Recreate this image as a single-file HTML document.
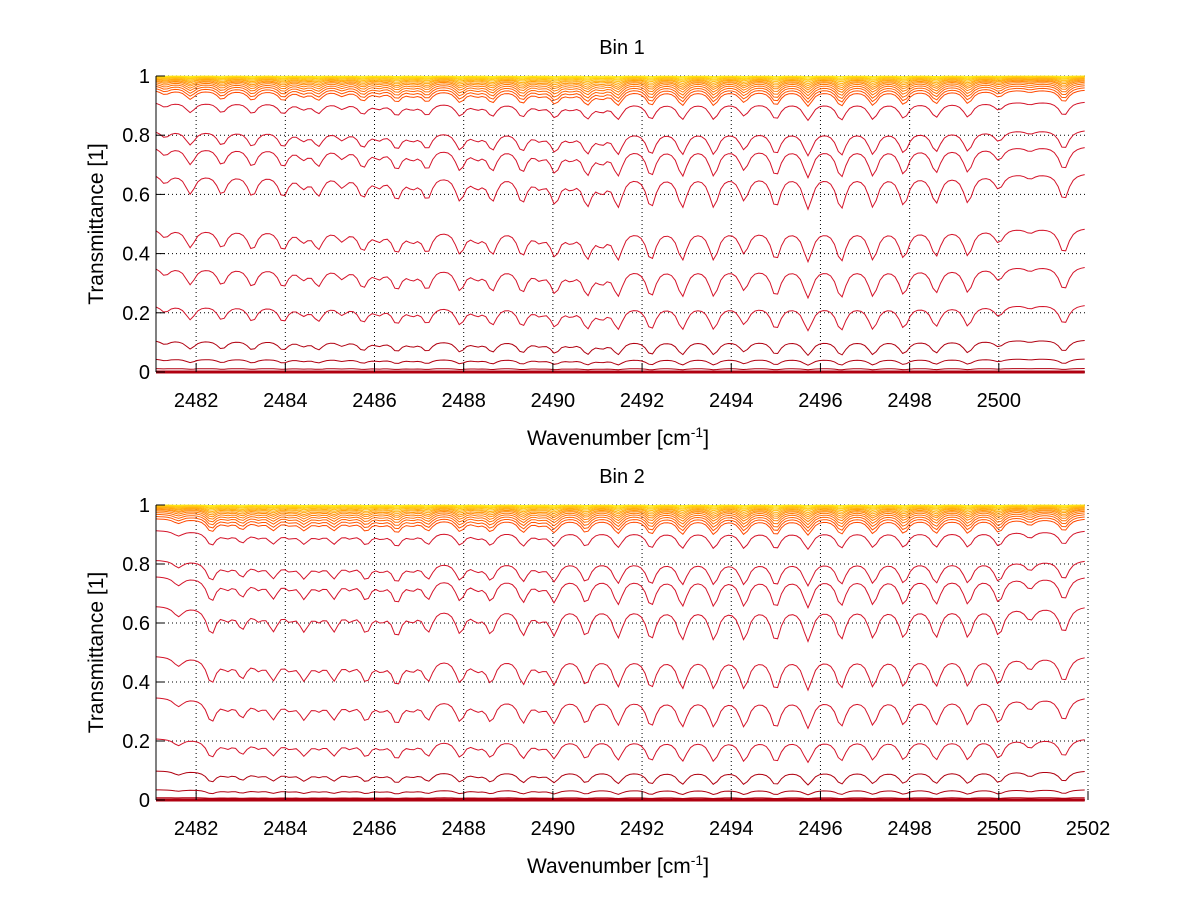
<!DOCTYPE html>
<html><head><meta charset="utf-8">
<style>
body{margin:0;background:#fff;}
svg{display:block;font-family:"Liberation Sans",sans-serif;}
</style></head>
<body>
<svg id="fig" width="1200" height="901" viewBox="0 0 1200 901" xmlns="http://www.w3.org/2000/svg">
<rect width="1200" height="901" fill="#fff"/>
</svg>
<script>
// ---- data ----
const xTicks = [2482,2484,2486,2488,2490,2492,2494,2496,2498,2500];
const xTicks2 = [2482,2484,2486,2488,2490,2492,2494,2496,2498,2500,2502];
const yTicks = [0,0.2,0.4,0.6,0.8,1];
const yTickLabels = ["0","0.2","0.4","0.6","0.8","1"];
const bin1LinePos = [2481.3,2481.87,2482.58,2483.26,2483.95,2484.4,2484.74,2485.27,2485.74,2486.1,2486.5,2486.85,2487.18,2487.92,2488.3,2488.64,2489.31,2489.7,2490.05,2490.4,2490.77,2491.1,2491.46,2492.2,2492.9,2493.61,2494.29,2495.0,2495.72,2496.46,2497.18,2497.87,2498.59,2499.31,2500.0,2500.7,2501.46];
const bin1LineStr = [0.3,0.6,0.6,0.65,0.65,0.35,0.6,0.35,0.65,0.3,0.7,0.3,0.7,0.75,0.3,0.75,0.8,0.3,0.8,0.3,0.85,0.4,0.9,0.95,0.95,0.95,0.75,0.95,1.0,1.0,0.95,0.9,0.85,0.85,0.45,0.15,0.8];
const bin2LinePos = [2481.6,2482.34,2482.7,2483.03,2483.4,2483.73,2484.1,2484.42,2484.75,2485.09,2485.45,2485.81,2486.15,2486.5,2486.85,2487.2,2487.92,2488.3,2488.61,2489.33,2489.7,2490.03,2490.74,2491.46,2492.2,2492.9,2493.61,2494.29,2495.0,2495.72,2496.46,2497.18,2497.87,2498.59,2499.31,2500.0,2500.7,2501.46];
const bin2LineStr = [0.3,0.8,0.3,0.6,0.3,0.65,0.3,0.65,0.3,0.65,0.3,0.7,0.3,0.8,0.3,0.7,0.75,0.3,0.75,0.8,0.3,0.8,0.85,0.9,0.95,0.95,0.95,0.95,1.0,1.0,0.95,0.9,0.9,0.9,0.9,0.85,0.4,0.8];
const bin1Levels = [0.0,0.012,0.045,0.11,0.23,0.36,0.49,0.675,0.765,0.82,0.915,0.955,0.963,0.97,0.976,0.981,0.985,0.988,0.991,0.993,0.995,0.997,0.998,0.999,1.0];
const bin1Depths = [0.0,0.35,0.45,0.45,0.36,0.28,0.22,0.17,0.13,0.1,0.065,0.055,0.05,0.045,0.04,0.035,0.03,0.026,0.022,0.018,0.014,0.011,0.008,0.005,0.002];
const bin2Levels = [0.0,0.008,0.035,0.1,0.21,0.35,0.49,0.66,0.76,0.815,0.915,0.955,0.963,0.97,0.976,0.981,0.985,0.988,0.991,0.993,0.995,0.997,0.998,0.999,1.0];
const bin2Depths = [0.0,0.35,0.45,0.45,0.36,0.28,0.22,0.17,0.13,0.1,0.065,0.055,0.05,0.045,0.04,0.035,0.03,0.026,0.022,0.018,0.014,0.011,0.008,0.005,0.002];

const NS="http://www.w3.org/2000/svg";
const svg=document.getElementById('fig');
const XMIN=2481.1, XMAX=2502;
const L=156,R=1088;
function el(tag,attrs,parent){const e=document.createElementNS(NS,tag);for(const k in attrs)e.setAttribute(k,attrs[k]);(parent||svg).appendChild(e);return e;}
function color(i,n){
  if(i<=3) return '#b00010';
  if(i<=10) return '#d4142a';
  const t=(i-10)/(n-11);
  const g=Math.round(60+t*180), b=Math.round(t*20);
  return 'rgb(255,'+g+','+b+')';
}
function panel(name,top,bottom,ticks,linePos,lineStr,levels,depths,title){
  const g=el('g',{});
  
  
  const sx=v=>L+(v-XMIN)/(XMAX-XMIN)*(R-L);
  const sy=v=>bottom-v*(bottom-top);
  ticks.forEach(t=>{const x=sx(t); if(x>R+1)return;
    const gl=el('line',{x1:x,x2:x,y1:top,y2:bottom,stroke:'#000','stroke-width':1,'stroke-dasharray':'1,3'},g);
    });
  yTicks.forEach(t=>{const y=sy(t);
    const gl=el('line',{x1:L,x2:R,y1:y,y2:y,stroke:'#000','stroke-width':1,'stroke-dasharray':'1,3'},g);
    });
  const A=v=>{let s=0;for(let j=0;j<linePos.length;j++){const d=(v-linePos[j])/0.13;s+=lineStr[j]/(1+d*d);}return Math.min(s,1.3);};
  const n=levels.length;
  for(let i=n-1;i>=0;i--){
    let d='';
    for(let v=XMIN;v<=XMAX+0.001;v+=0.085){
      const T=levels[i]*(1-depths[i]*A(v));
      d+=(d?'L':'M')+sx(v).toFixed(1)+','+sy(T).toFixed(1);
    }
    const p=el('path',{d:d,fill:'none',stroke:color(i,n),'stroke-width':i===0?3:1},g);
    
    
  }
  const ax=el('line',{x1:L,x2:L,y1:top,y2:bottom,stroke:'#000'},g);
  
  ticks.forEach(t=>{const x=sx(t); if(x>R+1)return;
    el('line',{x1:x,x2:x,y1:bottom,y2:bottom-9,stroke:'#000'},g);
    const tx=el('text',{x:x,y:bottom+35,'font-size':20,'text-anchor':'middle'},g);
    tx.textContent=t;});
  yTicks.forEach((t,k)=>{const y=sy(t);
    el('line',{x1:L,x2:L+9,y1:y,y2:y,stroke:'#000'},g);
    const tx=el('text',{x:L-6,y:y+7,'font-size':20,'text-anchor':'end'},g);
    tx.textContent=yTickLabels[k];});
  const tt=el('text',{x:(L+R)/2,y:top-22,'font-size':20,'text-anchor':'middle'},g);
  tt.textContent=title;
  const xl=el('text',{x:(L+R)/2-4,y:bottom+73,'font-size':21,'text-anchor':'middle'},g);
  xl.innerHTML='Wavenumber [cm<tspan dy="-8" font-size="14">-1</tspan><tspan dy="8">]</tspan>';
  
  const cy=(top+bottom)/2;
  const yl=el('text',{x:103,y:cy,'font-size':21,'text-anchor':'middle',transform:'rotate(-90 103 '+cy+')'},g);
  yl.textContent='Transmittance [1]';
}
panel('bin-1-panel',76,372,xTicks,bin1LinePos,bin1LineStr,bin1Levels,bin1Depths,'Bin 1');
panel('bin-2-panel',505,800,xTicks2,bin2LinePos,bin2LineStr,bin2Levels,bin2Depths,'Bin 2');
</script>
</body></html>
